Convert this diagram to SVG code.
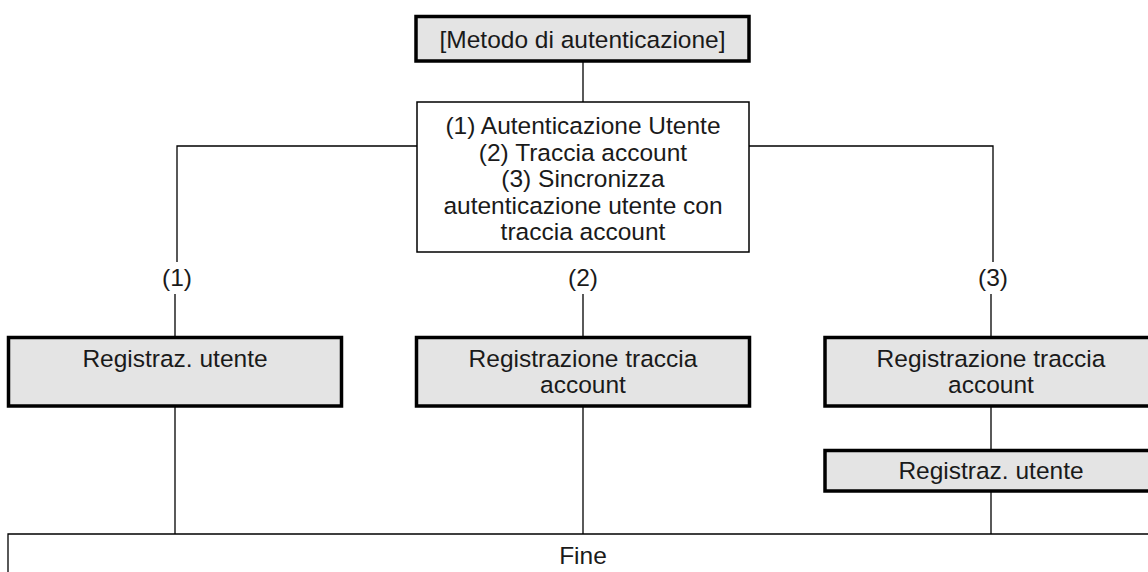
<svg xmlns="http://www.w3.org/2000/svg" width="1148" height="572" viewBox="0 0 1148 572">
<style>
.box{fill:#e4e4e4;stroke:#000;stroke-width:3.5}
.wbox{fill:#fff;stroke:#000;stroke-width:1.5}
.ln{stroke:#000;stroke-width:1.3;fill:none}
text{font-family:"Liberation Sans",Arial,sans-serif;font-size:24.5px;fill:#1a1a1a;text-anchor:middle}
</style>
<rect width="1148" height="572" fill="#fff"/>
<g id="connectors">
<line class="ln" x1="583" y1="61" x2="583" y2="102"/>
<polyline class="ln" points="417,146 177,146 177,262"/>
<polyline class="ln" points="749,146 993,146 993,262"/>
<line class="ln" x1="175" y1="294" x2="175" y2="337"/>
<line class="ln" x1="583" y1="294" x2="583" y2="337"/>
<line class="ln" x1="991" y1="294" x2="991" y2="337"/>
<line class="ln" x1="175" y1="406" x2="175" y2="534"/>
<line class="ln" x1="583" y1="406" x2="583" y2="534"/>
<line class="ln" x1="991" y1="406" x2="991" y2="450"/>
<line class="ln" x1="991" y1="491" x2="991" y2="534"/>
</g>
<g id="labels">
<text x="177" y="286">(1)</text>
<text x="583" y="286">(2)</text>
<text x="993" y="286">(3)</text>
</g>
<g id="metodo">
<rect class="box" x="416" y="16.5" width="333" height="44.5"/>
<text x="582.5" y="47.5">[Metodo di autenticazione]</text>
</g>
<g id="scelta">
<rect class="wbox" x="417" y="102" width="332" height="150"/>
<text x="583" y="134">(1) Autenticazione Utente</text>
<text x="583" y="160.5">(2) Traccia account</text>
<text x="583" y="187">(3) Sincronizza</text>
<text x="583" y="213.5">autenticazione utente con</text>
<text x="583" y="240">traccia account</text>
</g>
<g id="reg1">
<rect class="box" x="8.5" y="337.5" width="333" height="68.5"/>
<text x="175" y="366.5">Registraz. utente</text>
</g>
<g id="reg2">
<rect class="box" x="416.5" y="337.5" width="333" height="68.5"/>
<text x="583" y="366.5">Registrazione traccia</text>
<text x="583" y="393">account</text>
</g>
<g id="reg3">
<rect class="box" x="825" y="337.5" width="333" height="68.5"/>
<text x="991" y="366.5">Registrazione traccia</text>
<text x="991" y="393">account</text>
</g>
<g id="reg4">
<rect class="box" x="825" y="450.5" width="333" height="40.5"/>
<text x="991" y="478.5">Registraz. utente</text>
</g>
<g id="fine">
<polyline class="ln" points="8,580 8,534 1150,534"/>
<text x="583" y="563.5">Fine</text>
</g>
</svg>
